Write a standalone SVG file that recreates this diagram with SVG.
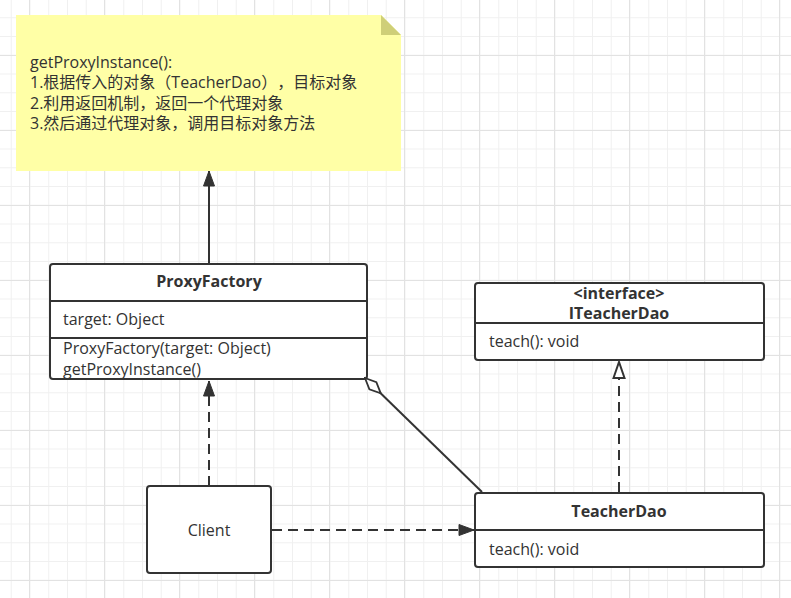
<svg xmlns="http://www.w3.org/2000/svg" width="791" height="598" viewBox="0 0 791 598">
<defs>
<pattern id="minor" x="10.75" y="17.25" width="18.75" height="18.75" patternUnits="userSpaceOnUse">
<path d="M0 0.5H18.75M0.5 0V18.75" fill="none" stroke="#f0f0f0" stroke-width="1"/>
</pattern>
<pattern id="major" x="29" y="55" width="75" height="75" patternUnits="userSpaceOnUse">
<path d="M0 0.5H75M0.5 0V75" fill="none" stroke="#e2e2e2" stroke-width="1"/>
</pattern>
<marker id="filled" markerWidth="17" markerHeight="13" refX="16" refY="6.5" orient="auto" markerUnits="userSpaceOnUse">
<path d="M1 1L16 6.5L1 12Z" fill="#333" stroke="#333" stroke-width="1"/>
</marker>
<marker id="hollow" markerWidth="18" markerHeight="16" refX="17" refY="8" orient="auto" markerUnits="userSpaceOnUse">
<path d="M1 2.5L17 8L1 13.5Z" fill="#fff" stroke="#333" stroke-width="2"/>
</marker>
<marker id="diamond" markerWidth="26" markerHeight="14" refX="1" refY="7" orient="auto" markerUnits="userSpaceOnUse">
<path d="M1 7L12 2L23 7L12 12Z" fill="#fff" stroke="#333" stroke-width="1.8"/>
</marker>
</defs>
<style>
text{font-family:"Open Sans","Noto Sans CJK SC",sans-serif;font-size:16px;fill:#333;text-spacing-trim:space-all;}
.b{font-weight:bold;}
.c{text-anchor:middle;}
.box{fill:#fff;stroke:#333;stroke-width:2;}
.line{fill:none;stroke:#333;stroke-width:2;}
.dash{fill:none;stroke:#333;stroke-width:2;stroke-dasharray:10 6;}
</style>
<rect width="791" height="598" fill="#fff"/>
<rect width="791" height="598" fill="url(#minor)"/>
<rect width="791" height="598" fill="url(#major)"/>

<g id="note">
<path d="M16 15H381L401 35V171H16Z" fill="#ffffa6"/>
<path d="M381 15L401 35H381Z" fill="#cfcf78"/>
<text x="30" y="68">getProxyInstance():</text>
<text x="30" y="88">1.根据传入的对象（TeacherDao），目标对象</text>
<text x="30" y="109">2.利用返回机制，返回一个代理对象</text>
<text x="30" y="129">3.然后通过代理对象，调用目标对象方法</text>
</g>

<g id="proxyfactory">
<rect class="box" x="50" y="264" width="317" height="115" rx="3"/>
<path class="line" d="M50 301H367M50 338H367"/>
<text class="b c" x="209" y="287">ProxyFactory</text>
<text x="63" y="325">target: Object</text>
<text x="63" y="354">ProxyFactory(target: Object)</text>
<text x="63" y="375">getProxyInstance()</text>
</g>

<g id="iteacherdao">
<rect class="box" x="475" y="283" width="289" height="77" rx="3"/>
<path class="line" d="M475 323H764"/>
<text class="b c" x="619" y="299">&lt;interface&gt;</text>
<text class="b c" x="619" y="319">ITeacherDao</text>
<text x="489" y="347">teach(): void</text>
</g>

<g id="teacherdao">
<rect class="box" x="475" y="493" width="289" height="74" rx="3"/>
<path class="line" d="M475 530H764"/>
<text class="b c" x="619" y="517">TeacherDao</text>
<text x="489" y="555">teach(): void</text>
</g>

<g id="client">
<rect class="box" x="147" y="486" width="124" height="87" rx="3"/>
<text class="c" x="209" y="536">Client</text>
</g>

<g id="connectors">
<path class="line" d="M209 263V171" marker-end="url(#filled)"/>
<path class="dash" d="M209 486V381" marker-end="url(#filled)"/>
<path class="dash" d="M272 530H474" marker-end="url(#filled)"/>
<path class="dash" d="M619 492V362" marker-end="url(#hollow)"/>
<path class="line" d="M365 378L482 492" marker-start="url(#diamond)"/>
</g>
</svg>
